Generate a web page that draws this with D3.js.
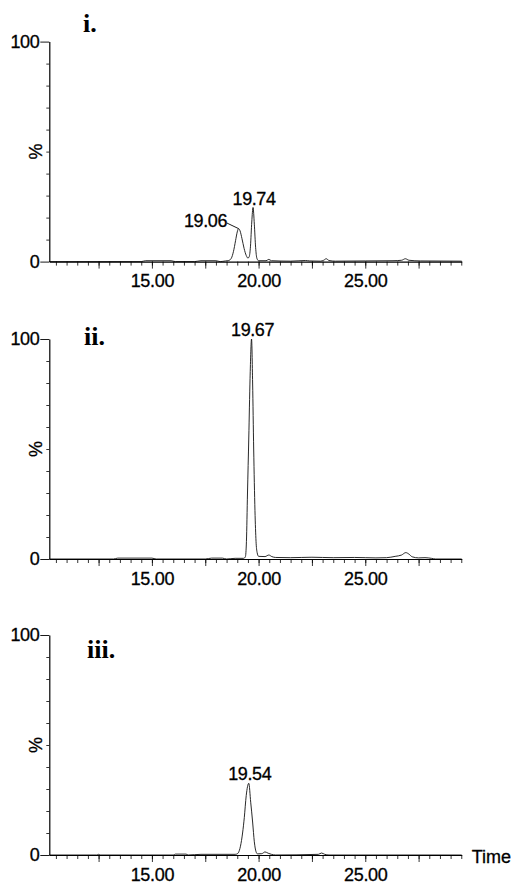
<!DOCTYPE html>
<html>
<head>
<meta charset="utf-8">
<script src="https://cdn.jsdelivr.net/npm/d3@7"></script>
<style>
  html, body { margin: 0; padding: 0; background: #fff; }
  svg { display: block; }
  .num { font-family: "Liberation Sans", Arial, Helvetica, sans-serif; font-size: 18px; fill: #000; stroke: #000; stroke-width: 0.3px; }
  .panel-tag { font-family: "Liberation Serif", "Times New Roman", serif; font-weight: bold; font-size: 26px; fill: #000; }
</style>
</head>
<body>
<svg id="chart" width="514" height="884"></svg>
<script>
// Retention-time window (minutes) and axis tick values
const timeDomain = [10.19, 29.52];
const minorTicks = d3.range(10.5, 29.51, 0.5);
const majorTicks = [12.5, 15, 17.5, 20, 22.5, 25, 27.5];
const labelTicks = [15, 20, 25];
const yMinorTicks = [10, 20, 30, 40, 50, 60, 70, 80, 90];
const yLabelTicks = [0, 100];

// Panel identifiers
const panelNames = ["i.", "ii.", "iii."];

// Chromatogram traces: [time (min), relative intensity (%)]
const traceI = [
  [10.19, 0], [14.5, 0], [14.7, 0.4], [15.9, 0.4], [16.1, 0], [17.0, 0], [17.3, 0.4],
  [18.0, 0.4], [18.2, 0], [18.45, 0.3], [18.6, 0.5], [18.72, 1.5], [18.82, 4.5],
  [18.92, 9.5], [19.0, 13.5], [19.06, 15], [19.13, 14], [19.22, 10.5], [19.32, 6],
  [19.42, 2.8], [19.5, 1.6], [19.56, 2.2], [19.62, 7], [19.68, 18], [19.74, 24.6],
  [19.8, 17], [19.86, 6.5], [19.92, 1.5], [20.0, 0.4], [20.35, 0.4], [20.48, 1.0],
  [20.6, 0.4], [21.5, 0.2], [22.2, 0.5], [22.4, 0.3], [22.9, 0.2], [23.05, 0.6],
  [23.17, 1.3], [23.3, 0.5], [23.6, 0.2], [25.0, 0.3], [26.3, 0.4], [26.7, 0.6],
  [26.88, 1.3], [27.05, 0.6], [27.6, 0.3], [29.52, 0.2]
];
const traceII = [
  [10.19, 0], [13.2, 0], [13.4, 0.4], [15.0, 0.4], [15.2, 0], [17.5, 0], [17.8, 0.4],
  [18.3, 0.4], [18.5, 0], [18.9, 0.3], [19.3, 0.3], [19.38, 1], [19.43, 8], [19.48, 30],
  [19.54, 55], [19.6, 82], [19.67, 100], [19.72, 80], [19.77, 50], [19.83, 22],
  [19.88, 8], [19.93, 3], [20.0, 1.2], [20.3, 1.1], [20.48, 1.8], [20.62, 1.1],
  [20.8, 0.7], [21.5, 0.6], [22.5, 0.8], [23.5, 0.6], [24.5, 0.7], [25.5, 0.5],
  [26.0, 0.6], [26.4, 1.2], [26.7, 1.8], [26.9, 2.9], [27.05, 2.2], [27.2, 1.0],
  [27.5, 0.5], [27.8, 0.6], [28.1, 0.3], [28.3, 0], [29.52, 0]
];
const traceIII = [
  [10.19, 0], [12.4, 0], [12.5, 0.3], [12.6, 0], [16.0, 0], [16.1, 0.4], [16.6, 0.4],
  [16.7, 0], [17.3, 0.3], [18.9, 0.3], [18.97, 0.4], [19.05, 1], [19.15, 4],
  [19.25, 10], [19.33, 17], [19.42, 27], [19.54, 32.6], [19.63, 24], [19.72, 15],
  [19.8, 6], [19.88, 1.5], [19.95, 0.5], [20.15, 0.6], [20.3, 1.4], [20.45, 0.8],
  [20.6, 0.3], [20.8, 0], [22.8, 0.3], [22.95, 0.9], [23.1, 0.3], [23.3, 0], [29.52, 0]
];
const traces = [traceI, traceII, traceIII];

// Annotated peaks per panel: [time, intensity]
const peaksI = [[19.06, 15], [19.74, 24.6]];
const peaksII = [[19.67, 100]];
const peaksIII = [[19.54, 32.6]];
const peaks = [peaksI, peaksII, peaksIII];
// Peaks whose label sits to the left with a leader line
const leaderPeaks = [19.06];

// Layout
const axisLeftX = 49.3;
const axisRightX = 461.7;
const panelTops = [41.6, 339, 635];
const panelHeight = 220;
const tagOffsets = [[83, -9.5], [84, 6], [87, 23]];

const svg = d3.select("#chart");

const x = d3.scaleLinear().domain(timeDomain).range([0, axisRightX - axisLeftX]);
const y = d3.scaleLinear().domain([0, 100]).range([panelHeight, 0]);

const line = d3.line()
  .x(d => x(d[0]))
  .y(d => y(d[1]))
  .curve(d3.curveMonotoneX);

const fmt = d3.format(".2f");

panelNames.forEach((name, i) => {
  const g = svg.append("g").attr("transform", `translate(${axisLeftX},${panelTops[i]})`);

  // trace
  g.append("path")
    .datum(traces[i])
    .attr("d", line)
    .attr("fill", "none")
    .attr("stroke", "#111")
    .attr("stroke-width", 0.9)
    .attr("stroke-linejoin", "round");

  // x axis: minor ticks
  const xMinor = g.append("g").attr("transform", `translate(0,${panelHeight})`)
    .call(d3.axisBottom(x).tickValues(minorTicks).tickSizeInner(4).tickSizeOuter(0).tickFormat(""));
  xMinor.select(".domain").attr("stroke", "#000").attr("stroke-width", 1.2);
  xMinor.selectAll(".tick line").attr("stroke", "#000").attr("stroke-width", 0.8);

  // x axis: major ticks with labels
  const xMajor = g.append("g").attr("transform", `translate(0,${panelHeight})`)
    .call(d3.axisBottom(x).tickValues(majorTicks).tickSizeInner(7).tickSizeOuter(0).tickPadding(6)
      .tickFormat(d => labelTicks.includes(d) ? fmt(d) : ""));
  xMajor.select(".domain").remove();
  xMajor.selectAll(".tick line").attr("stroke", "#000").attr("stroke-width", 0.8);
  xMajor.selectAll(".tick text").attr("class", "num").attr("letter-spacing", "-0.3px");

  // y axis: minor ticks
  const yMinor = g.append("g")
    .call(d3.axisLeft(y).tickValues(yMinorTicks).tickSizeInner(3).tickSizeOuter(0).tickFormat(""));
  yMinor.select(".domain").attr("stroke", "#000").attr("stroke-width", 1.2);
  yMinor.selectAll(".tick line").attr("stroke", "#000").attr("stroke-width", 0.8);

  // y axis: 0 and 100 labels
  const yMajor = g.append("g")
    .call(d3.axisLeft(y).tickValues(yLabelTicks).tickSizeInner(9).tickSizeOuter(0).tickPadding(1));
  yMajor.select(".domain").remove();
  yMajor.selectAll(".tick line").attr("stroke", "#000").attr("stroke-width", 0.9);
  yMajor.selectAll(".tick text").attr("class", "num").attr("letter-spacing", "-0.4px");

  // y title
  g.append("text")
    .attr("class", "num")
    .attr("transform", `translate(${-13.6},${y(50)}) rotate(-90)`)
    .attr("text-anchor", "middle")
    .attr("dy", "0.35em")
    .text("%");

  // panel tag
  g.append("text")
    .attr("class", "panel-tag")
    .attr("x", tagOffsets[i][0] - axisLeftX)
    .attr("y", tagOffsets[i][1])
    .text(name);

  // peak annotations
  peaks[i].forEach(p => {
    const px = x(p[0]), py = y(p[1]);
    if (leaderPeaks.includes(p[0])) {
      g.append("line")
        .attr("x1", px - 11.5).attr("y1", py - 5.5)
        .attr("x2", px).attr("y2", py)
        .attr("stroke", "#000").attr("stroke-width", 0.9);
      g.append("text")
        .attr("class", "num")
        .attr("x", px - 11.5).attr("y", py - 1.5)
        .attr("text-anchor", "end")
        .attr("letter-spacing", "-0.4px")
        .text(fmt(p[0]));
    } else {
      g.append("text")
        .attr("class", "num")
        .attr("x", px + 1).attr("y", py - 2.8)
        .attr("text-anchor", "middle")
        .attr("letter-spacing", "-0.4px")
        .text(fmt(p[0]));
    }
  });

  // x title on the last panel
  if (i === panelNames.length - 1) {
    g.append("text")
      .attr("class", "num")
      .attr("x", axisRightX - axisLeftX + 10)
      .attr("y", panelHeight + 7.5)
      .text("Time");
  }
});
</script>
</body>
</html>
